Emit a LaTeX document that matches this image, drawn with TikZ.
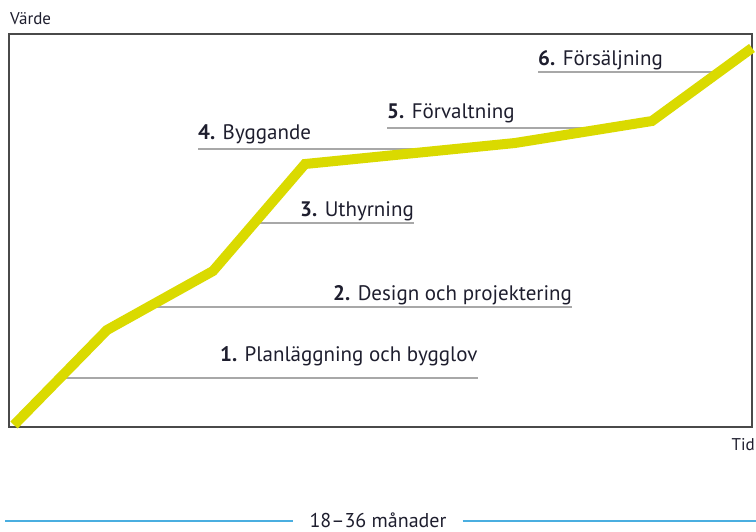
\documentclass[tikz,border=0pt]{standalone}
\usepackage{fontspec}
\setmainfont{PT Sans}
\usepackage{tikz}
\definecolor{valueyellow}{HTML}{DADA00}
\definecolor{framegray}{HTML}{4A4A4A}
\definecolor{rulegray}{HTML}{A8A8A8}
\definecolor{textnavy}{HTML}{1E1E2E}
\definecolor{spanblue}{HTML}{4AAEE0}
\tikzset{
  frame/.style={draw=framegray, line width=1.6pt},
  curve/.style={draw=valueyellow, line width=10pt, line join=miter},
  rule/.style={draw=rulegray, line width=1.4pt},
  span/.style={draw=spanblue, line width=1.6pt},
  phase/.style={anchor=base west, inner sep=0pt, text=textnavy,
    font=\fontsize{21}{24}\selectfont},
  axis/.style={anchor=base west, inner sep=0pt, text=textnavy,
    font=\fontsize{17}{20}\selectfont}
}

\begin{document}
\begin{tikzpicture}[x=1pt,y=-1pt]
  \path[use as bounding box] (0,0) rectangle (756,531);
  \clip (0,0) rectangle (756,531);

  \node[axis] (varde) at (10,24) {Värde};
  \node[axis, anchor=base east] (tid) at (755,450) {Tid};

  % phases
  \node[phase] (plan) at (220,361) {\textbf{1.} Planläggning och bygglov};
  \node[phase] (design) at (333,300) {\textbf{2.} Design och projektering};
  \node[phase] (uthyr) at (300,216) {\textbf{3.} Uthyrning};
  \node[phase] (bygg) at (198,139) {\textbf{4.} Byggande};
  \node[phase] (forv) at (387,118) {\textbf{5.} Förvaltning};
  \node[phase] (salj) at (538,65) {\textbf{6.} Försäljning};

  % where each underline meets the value curve
  \coordinate (plancut) at (60,378);
  \coordinate (designcut) at (148,307);
  \coordinate (uthyrcut) at (254,223);
  \coordinate (byggcut) at (445,149);
  \coordinate (forvcut) at (608,128);
  \coordinate (saljcut) at (719,72);

  \draw[rule] (plancut) -- (plancut -| plan.east);
  \draw[rule] (designcut) -- (designcut -| design.east);
  \draw[rule] (uthyrcut) -- (uthyrcut -| uthyr.east);
  \draw[rule] (byggcut -| bygg.west) -- (byggcut);
  \draw[rule] (forvcut -| forv.west) -- (forvcut);
  \draw[rule] (saljcut -| salj.west) -- (saljcut);

  \draw[frame] (9,34) rectangle (752,427);

  \draw[curve] (14,425) -- (107,330) -- (213,271) -- (305,164)
    -- (515,143) -- (652,121) -- (752,48);

  % duration bar
  \node[anchor=base, inner ysep=0pt, inner xsep=16pt, text=textnavy,
    font=\fontsize{20}{23}\selectfont] (months) at (378,527) {18--36 månader};
  \coordinate (spanleft) at (5,521);
  \coordinate (spanright) at (756,521);
  \draw[span] (spanleft) -- (spanleft -| months.west);
  \draw[span] (months.east |- spanright) -- (spanright);
\end{tikzpicture}
\end{document}
